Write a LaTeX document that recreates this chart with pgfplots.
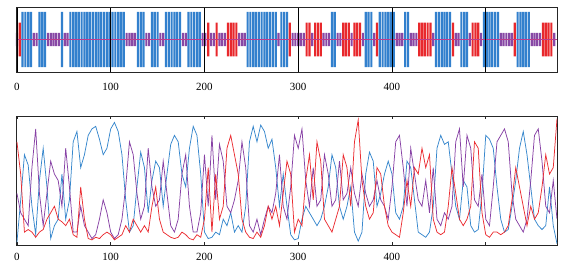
\documentclass[border=0pt]{standalone}
\usepackage{pgfplots}
\pgfplotsset{compat=1.18}
\usepackage{pgfplotstable}
\usepackage{fontspec}
\setmainfont{Liberation Serif}
\definecolor{cblue}{RGB}{50,128,205}
\definecolor{cred}{RGB}{232,40,44}
\definecolor{cpurp}{RGB}{135,72,165}
\definecolor{lblue}{RGB}{55,135,205}
\definecolor{lpurp}{RGB}{135,65,165}
\definecolor{lred}{RGB}{235,45,50}
\definecolor{cmid}{RGB}{190,60,140}

\pgfplotstableread{
x h
6 1
9 1
12 1
15 1
24 1
27 1
30 1
48 1
57 1
60 1
63 1
66 1
69 1
72 1
75 1
78 1
81 1
84 1
87 1
90 1
93 1
96 1
99 1
102 1
105 1
108 1
111 1
114 1
129 1
132 1
135 1
144 1
147 1
150 1
159 1
162 1
165 1
168 1
171 1
174 1
183 1
186 1
189 1
192 1
195 1
246 1
249 1
252 1
255 1
258 1
261 1
264 1
267 1
270 1
273 1
276 1
282 1
285 1
288 1
336 1
339 1
372 1
375 1
378 1
387 1
390 1
393 1
396 1
399 1
402 1
414 1
417 1
447 1
450 1
453 1
456 1
459 1
462 1
474 1
477 1
480 1
498 1
501 1
504 1
507 1
510 1
513 1
534 1
537 1
540 1
543 1
546 1
}\bluebars

\pgfplotstableread{
x h
3 0.61
204 0.61
213 0.61
225 0.61
228 0.61
231 0.61
234 0.61
291 0.61
309 0.61
312 0.61
318 0.61
321 0.61
324 0.61
348 0.61
351 0.61
354 0.61
360 0.61
363 0.61
366 0.61
384 0.61
429 0.61
432 0.61
435 0.61
438 0.61
441 0.61
465 0.61
486 0.61
489 0.61
492 0.61
531 0.61
561 0.61
564 0.61
567 0.61
570 0.61
}\redbars

\pgfplotstableread{
x h
0 0.24
18 0.24
21 0.24
33 0.24
36 0.24
39 0.24
42 0.24
45 0.24
51 0.24
54 0.24
117 0.24
120 0.24
123 0.24
126 0.24
138 0.24
141 0.24
153 0.24
156 0.24
177 0.24
180 0.24
198 0.24
201 0.24
207 0.24
210 0.24
216 0.24
219 0.24
222 0.24
237 0.24
240 0.24
243 0.24
279 0.24
294 0.24
297 0.24
300 0.24
303 0.24
306 0.24
315 0.24
327 0.24
330 0.24
333 0.24
342 0.24
345 0.24
357 0.24
369 0.24
381 0.24
405 0.24
408 0.24
411 0.24
420 0.24
423 0.24
426 0.24
444 0.24
468 0.24
471 0.24
483 0.24
495 0.24
516 0.24
519 0.24
522 0.24
525 0.24
528 0.24
549 0.24
552 0.24
555 0.24
558 0.24
573 0.24
}\purpbars

\pgfplotstableread{
x b p r
0 0.02 0.40 0.80
4 0.35 0.25 0.55
8 0.70 0.20 0.10
12 0.62 0.15 0.12
16 0.30 0.60 0.10
20 0.08 0.90 0.06
24 0.50 0.40 0.10
28 0.75 0.15 0.12
32 0.45 0.40 0.20
36 0.05 0.65 0.25
40 0.15 0.55 0.30
44 0.20 0.50 0.20
48 0.55 0.30 0.18
52 0.20 0.75 0.15
56 0.35 0.45 0.20
60 0.80 0.10 0.08
64 0.88 0.10 0.06
68 0.60 0.30 0.45
72 0.70 0.15 0.20
76 0.85 0.10 0.05
80 0.90 0.05 0.04
84 0.92 0.08 0.06
88 0.82 0.20 0.05
92 0.70 0.35 0.08
96 0.75 0.25 0.10
100 0.90 0.10 0.08
104 0.95 0.05 0.04
108 0.88 0.08 0.06
112 0.70 0.20 0.08
116 0.35 0.45 0.15
120 0.10 0.80 0.10
124 0.15 0.70 0.20
128 0.45 0.40 0.15
132 0.72 0.20 0.10
136 0.60 0.30 0.15
140 0.25 0.75 0.10
144 0.50 0.45 0.30
148 0.65 0.30 0.45
152 0.60 0.35 0.20
156 0.30 0.65 0.10
160 0.55 0.40 0.08
164 0.78 0.15 0.06
168 0.85 0.10 0.05
172 0.80 0.20 0.06
176 0.55 0.55 0.10
180 0.45 0.70 0.08
184 0.75 0.30 0.05
188 0.92 0.10 0.04
192 0.85 0.10 0.08
196 0.55 0.25 0.06
200 0.10 0.70 0.20
204 0.05 0.30 0.60
208 0.06 0.85 0.10
212 0.10 0.35 0.55
216 0.08 0.78 0.20
220 0.20 0.65 0.30
224 0.15 0.30 0.75
228 0.25 0.25 0.85
232 0.10 0.35 0.70
236 0.15 0.50 0.55
240 0.10 0.80 0.20
244 0.30 0.60 0.10
248 0.80 0.15 0.06
252 0.92 0.10 0.05
256 0.80 0.20 0.10
260 0.93 0.08 0.06
264 0.88 0.20 0.15
268 0.75 0.30 0.30
272 0.82 0.25 0.20
276 0.60 0.40 0.30
280 0.30 0.70 0.15
284 0.55 0.30 0.40
288 0.30 0.20 0.65
292 0.08 0.45 0.55
296 0.04 0.85 0.10
300 0.05 0.75 0.20
304 0.20 0.90 0.15
308 0.30 0.50 0.50
312 0.25 0.30 0.70
316 0.20 0.60 0.35
320 0.15 0.30 0.80
324 0.20 0.35 0.65
328 0.30 0.70 0.20
332 0.45 0.55 0.15
336 0.70 0.30 0.10
340 0.60 0.35 0.20
344 0.30 0.65 0.30
348 0.20 0.35 0.70
352 0.30 0.40 0.60
356 0.45 0.60 0.30
360 0.10 0.40 0.80
364 0.03 0.30 0.97
368 0.10 0.55 0.50
372 0.55 0.40 0.30
376 0.72 0.30 0.20
380 0.65 0.35 0.25
384 0.30 0.50 0.60
388 0.40 0.35 0.55
392 0.55 0.30 0.30
396 0.65 0.20 0.15
400 0.55 0.45 0.10
404 0.25 0.80 0.08
408 0.20 0.85 0.06
412 0.30 0.60 0.25
416 0.65 0.30 0.50
420 0.60 0.75 0.30
424 0.35 0.55 0.60
428 0.10 0.35 0.55
432 0.08 0.30 0.75
436 0.06 0.50 0.60
440 0.10 0.25 0.70
444 0.30 0.60 0.20
448 0.75 0.20 0.10
452 0.85 0.15 0.08
456 0.78 0.25 0.10
460 0.80 0.20 0.30
464 0.55 0.30 0.60
468 0.30 0.80 0.40
472 0.20 0.90 0.20
476 0.50 0.45 0.15
480 0.45 0.85 0.20
484 0.15 0.75 0.30
488 0.10 0.35 0.80
492 0.12 0.30 0.75
496 0.40 0.55 0.25
500 0.85 0.20 0.08
504 0.82 0.15 0.06
508 0.75 0.45 0.10
512 0.45 0.80 0.10
516 0.20 0.85 0.08
520 0.10 0.90 0.10
524 0.12 0.80 0.15
528 0.30 0.40 0.35
532 0.50 0.20 0.60
536 0.75 0.15 0.45
540 0.88 0.10 0.30
544 0.70 0.20 0.15
548 0.45 0.50 0.30
552 0.20 0.85 0.20
556 0.15 0.90 0.25
560 0.12 0.65 0.45
564 0.15 0.30 0.70
568 0.45 0.25 0.55
572 0.15 0.50 0.60
576 0.01 0.20 0.98
}\probs

\begin{document}
\begin{tikzpicture}
\pgfplotsset{
  every axis/.append style={
    scale only axis, width=541pt,
    xmin=-1, xmax=576,
    xtick={0,100,200,300,400,500},
    xticklabels={0,100,200,300,400,{}},
    ytick=\empty,
    axis line style={black!85, line width=0.6pt},
    tick style={black!85, line width=0.5pt},
    tick label style={font=\fontsize{11}{13}\selectfont},
    /pgf/number format/assume math mode=true,
  }
}
\begin{axis}[at={(0,173pt)}, anchor=south west, height=65pt,
  ymin=-1.18, ymax=1.18, axis on top,
  xmajorgrids, major grid style={black, line width=0.6pt},
  xtick align=inside, major tick length=0pt,
  xticklabel style={yshift=-8pt}]
\addplot[ybar, bar shift=0pt, bar width=2.3, fill=cpurp, draw=none] table[x=x,y=h] {\purpbars};
\addplot[ybar, bar shift=0pt, bar width=2.3, fill=cpurp, draw=none] table[x=x,y expr=-\thisrow{h}] {\purpbars};
\addplot[ybar, bar shift=0pt, bar width=2.3, fill=cred, draw=none] table[x=x,y=h] {\redbars};
\addplot[ybar, bar shift=0pt, bar width=2.3, fill=cred, draw=none] table[x=x,y expr=-\thisrow{h}] {\redbars};
\addplot[ybar, bar shift=0pt, bar width=2.3, fill=cblue, draw=none] table[x=x,y=h] {\bluebars};
\addplot[ybar, bar shift=0pt, bar width=2.3, fill=cblue, draw=none] table[x=x,y expr=-\thisrow{h}] {\bluebars};
\addplot[cmid, line width=0.4pt] coordinates {(-1,0) (576,0)};
\end{axis}
\begin{axis}[at={(0,0)}, anchor=south west, height=129pt,
  ymin=0, ymax=1.0, tick align=inside, major tick length=3pt,
  xticklabel style={yshift=-5pt}]
\addplot[lblue, line width=0.75pt] table[x=x,y=b] {\probs};
\addplot[lpurp, line width=0.75pt] table[x=x,y=p] {\probs};
\addplot[lred, line width=0.75pt] table[x=x,y=r] {\probs};
\end{axis}
\pgfresetboundingbox
\path[use as bounding box] (-16pt,-21pt) rectangle (556pt,245pt);
\end{tikzpicture}
\end{document}
